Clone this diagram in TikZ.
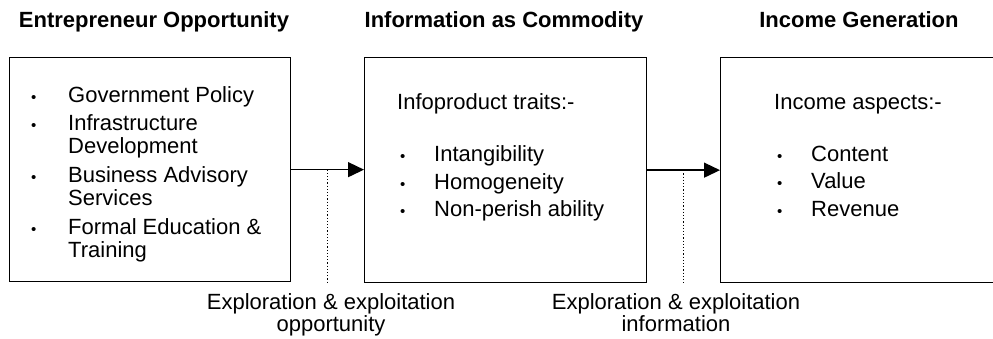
\documentclass[tikz,border=0pt]{standalone}
\usepackage{fontspec}
\setmainfont{Liberation Sans}
\usetikzlibrary{arrows.meta}

\tikzset{
  box/.style={draw, line width=1.3pt, inner sep=0pt, anchor=north west},
  ttl/.style={font=\fontsize{22}{23}\selectfont\bfseries, inner sep=0pt, anchor=base},
  txt/.style={font=\fontsize{22}{23}\selectfont, inner sep=0pt, anchor=base west, align=left},
  bul/.style={font=\fontsize{15}{15}\selectfont, inner sep=0pt, anchor=base west},
  lbl/.style={font=\fontsize{22}{20}\selectfont, inner sep=0pt, anchor=base, align=center},
  flow/.style={line width=1.3pt, -{Triangle[length=16pt,width=15pt]}},
  dots/.style={line width=1.2pt, dash pattern=on 1.2pt off 2pt}
}

\begin{document}
\begin{tikzpicture}[x=1pt,y=-1pt]
    \useasboundingbox (0,0) rectangle (993,339);
    \clip (0,0) rectangle (993,339);

    % judul kolom
    \node[ttl] (ttlopp) at (154,28) {Entrepreneur Opportunity};
    \node[ttl] (ttlcom) at (504,28) {Information as Commodity};
    \node[ttl] (ttlinc) at (859,28) {Income Generation};

    % kotak-kotak
    \node[box, minimum width=281pt, minimum height=224pt] (opp) at (9,57) {};
    \node[box, minimum width=282pt, minimum height=225pt] (com) at (364,57) {};
    \node[box, minimum width=300pt, minimum height=225pt] (inc) at (720,57) {};

    % isi kotak pertama (y bullet / y baris terakhir)
    \foreach \y/\z/\t [count=\i] in {103/103/Government Policy,
        131/154/Infrastructure\\Development,
        183/206/Business Advisory\\Services,
        234/257/Formal Education \&\\Training} {
      \node[bul] (ob\i) at (31,\y) {•};
      \node[txt] (ot\i) at (68,\z) {\t};
    }

    % isi kotak kedua
    \node[txt] (comhead) at (397,110) {Infoproduct traits:-};
    \foreach \y/\t [count=\i] in {162/Intangibility, 190/Homogeneity, 217/Non-perish ability} {
      \node[bul] (cb\i) at (400,\y) {•};
      \node[txt] (ct\i) at (434,\y) {\t};
    }

    % isi kotak ketiga
    \node[txt] (inchead) at (774,110) {Income aspects:-};
    \foreach \y/\t [count=\i] in {162/Content, 189/Value, 217/Revenue} {
      \node[bul] (ib\i) at (777,\y) {•};
      \node[txt] (it\i) at (811,\y) {\t};
    }

    % panah antar kotak
    \draw[flow] (opp.east) -- coordinate[pos=0.5] (d1) (opp.east -| com.west);
    \draw[flow] (com.east) -- coordinate[pos=0.5] (d2) (com.east -| inc.west);

    % keterangan
    \node[lbl] (lblopp) at (331,331) {Exploration \& exploitation\\opportunity};
    \node[lbl] (lblinf) at (676,331) {Exploration \& exploitation\\information};
    \draw[dots] (d1) -- ++(0,115);
    \draw[dots] (d2) -- ++(0,115);
\end{tikzpicture}
\end{document}
